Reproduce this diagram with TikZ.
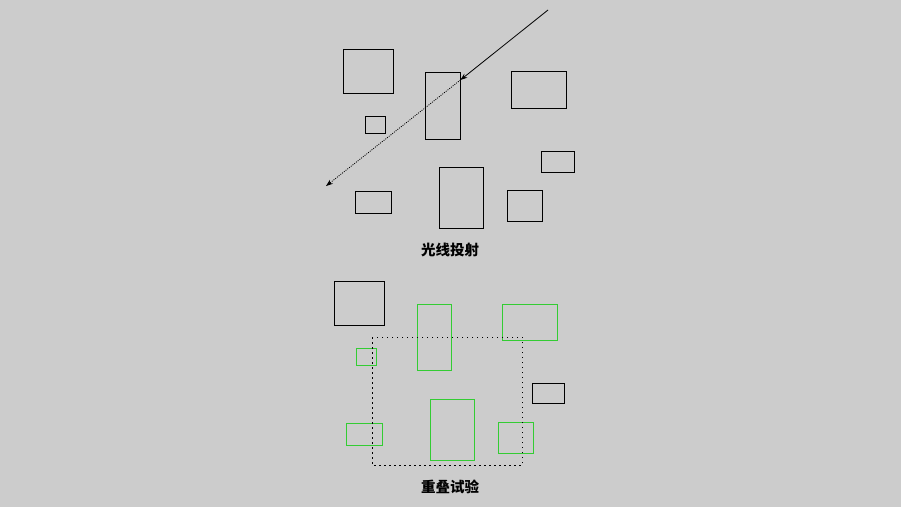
\documentclass[tikz,border=0pt]{standalone}
\usepackage{fontspec}
\newfontfamily\cjk{Noto Sans CJK SC}
\usetikzlibrary{arrows.meta}
\definecolor{bggray}{RGB}{204,204,204}
\definecolor{hitgreen}{RGB}{51,204,51}
\tikzset{box/.style 2 args={draw=black,line width=0.8pt,inner sep=0pt,minimum width=#1,minimum height=#2}}
\tikzset{hitbox/.style 2 args={box={#1}{#2},draw=hitgreen}}
\tikzset{caption/.style={font=\cjk\bfseries\fontsize{14.5}{16}\selectfont}}
\tikzset{tip/.tip={Stealth[length=7pt,width=5pt]}}
\begin{document}
\begin{tikzpicture}[x=1pt,y=-1pt]
      \useasboundingbox[fill=bggray] (0,0) rectangle (901,507);
      % ray casting
      \node[box={50}{44}](ra) at (368,71){};
      \node[box={35}{67}](rb) at (442.5,105.5){};
      \node[box={55}{37}](rc) at (538.5,89.5){};
      \node[box={20}{17}](rd) at (375,124.5){};
      \node[box={33}{21}](re) at (557.5,161.5){};
      \node[box={36}{22}](rf) at (373,202){};
      \node[box={44}{61}](rg) at (461,197.5){};
      \node[box={35}{31}](rh) at (524.5,205.5){};
      \coordinate(rayorig) at (548,10);
      \coordinate(rayhit) at (rb.east |- 0,80);
      \coordinate(rayend) at (326,186);
      \draw[line width=0.8pt,-tip] (rayorig) -- (rayhit);
      \draw[line width=0.8pt,dash pattern=on 1pt off 1.2pt,-tip] (rayhit) -- (rayend);
      \node[caption](raylabel) at (450,250){光线投射};
      
      % overlap test
      \node[box={50}{44}](oa) at (359,303){};
      \node[hitbox={34}{66}](ob) at (434,337){};
      \node[hitbox={55}{36}](oc) at (529.5,322){};
      \node[hitbox={20}{17}](od) at (366,356.5){};
      \node[box={32}{20}](oe) at (548,393){};
      \node[hitbox={36}{22}](of) at (364,434){};
      \node[hitbox={44}{61}](og) at (452,429.5){};
      \node[hitbox={35}{31}](oh) at (515.5,437.5){};
      \draw[line width=0.9pt,dash pattern=on 1.5pt off 3.5pt] (372,337) rectangle (522,465);
      \node[caption](overlaplabel) at (450,487){重叠试验};
\end{tikzpicture}
\end{document}
